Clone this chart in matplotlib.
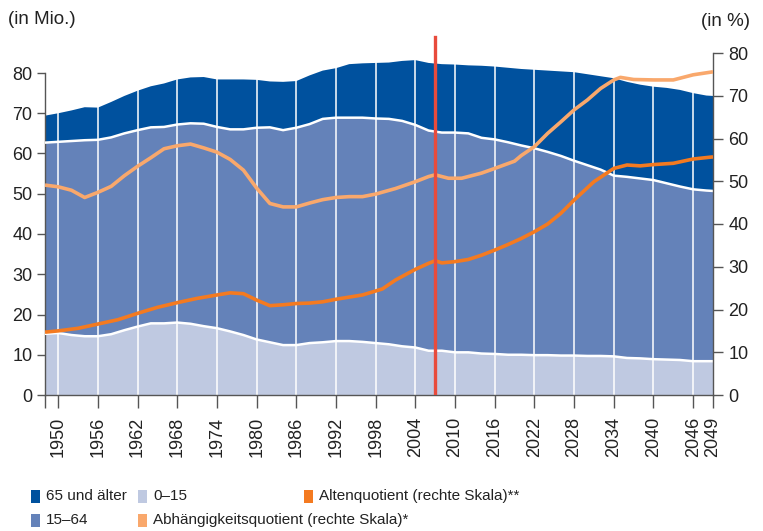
import numpy as np
import matplotlib
matplotlib.use("Agg")
import matplotlib.pyplot as plt
from matplotlib.patches import Rectangle

plt.rcParams['font.family'] = ['Liberation Sans', 'DejaVu Sans']

# population by age group (in Mio.)
years = [1948, 1950, 1952, 1954, 1956, 1958, 1960, 1962, 1964, 1966, 1968, 1970,
         1972, 1974, 1976, 1978, 1980, 1982, 1984, 1986, 1988, 1990, 1992, 1994,
         1996, 1998, 2000, 2002, 2004, 2006, 2008, 2010, 2012, 2014, 2016, 2018,
         2020, 2022, 2024, 2026, 2028, 2030, 2032, 2034, 2036, 2038, 2040, 2042,
         2044, 2046, 2048, 2049]
pop_0_15 = [15.2, 15.4, 14.9, 14.6, 14.6, 15.1, 16.1, 17.0, 17.8, 17.8, 18.0, 17.7,
            17.1, 16.6, 15.8, 14.9, 13.8, 13.1, 12.4, 12.4, 12.9, 13.1, 13.4, 13.4,
            13.2, 12.9, 12.6, 12.1, 11.8, 11.0, 11.0, 10.6, 10.6, 10.3, 10.2, 10.0,
            10.0, 9.9, 9.9, 9.8, 9.8, 9.7, 9.7, 9.6, 9.2, 9.1, 8.9, 8.8,
            8.7, 8.4, 8.4, 8.4]
pop_15_64 = [47.5, 47.5, 48.2, 48.7, 48.8, 48.9, 48.9, 48.8, 48.7, 48.8, 49.2, 49.8,
             50.3, 50.0, 50.2, 51.1, 52.6, 53.4, 53.4, 54.0, 54.4, 55.5, 55.5, 55.5,
             55.7, 55.8, 56.0, 56.0, 55.3, 54.7, 54.2, 54.6, 54.4, 53.6, 53.3, 52.8,
             52.0, 51.4, 50.5, 49.6, 48.4, 47.4, 46.3, 44.9, 45.0, 44.7, 44.5, 43.8,
             43.1, 42.7, 42.4, 42.3]
pop_65plus = [6.7, 7.1, 7.6, 8.2, 8.0, 8.8, 9.3, 9.8, 10.2, 10.8, 11.2, 11.4,
              11.6, 11.8, 12.4, 12.4, 11.9, 11.4, 12.0, 11.6, 12.1, 12.0, 12.3, 13.3,
              13.5, 13.8, 14.0, 14.9, 16.1, 16.8, 17.0, 16.9, 16.9, 17.9, 18.1, 18.5,
              19.0, 19.5, 20.2, 21.0, 22.0, 22.6, 23.2, 24.2, 23.6, 23.3, 23.2, 23.7,
              24.0, 23.9, 23.6, 23.6]

# ratios (in %), right scale
alten_years = [1948, 1950, 1953, 1956, 1959, 1962, 1965, 1968, 1971, 1974, 1976, 1978,
               1980, 1982, 1984, 1986, 1988, 1990, 1992, 1994, 1996, 1999, 2001, 2004,
               2006, 2007, 2008, 2010, 2012, 2014, 2016, 2018, 2020, 2022, 2024, 2026,
               2028, 2031, 2034, 2036, 2038, 2040, 2043, 2046, 2049]
altenquotient = [14.7, 15.0, 15.6, 16.6, 17.6, 19.1, 20.5, 21.6, 22.6, 23.4, 23.9, 23.7,
                 22.2, 20.9, 21.1, 21.4, 21.5, 21.8, 22.4, 22.9, 23.4, 24.8, 26.9, 29.4,
                 30.8, 31.4, 30.9, 31.2, 31.7, 32.7, 33.9, 35.2, 36.6, 38.2, 40.0, 42.5,
                 45.6, 49.9, 53.0, 53.8, 53.6, 53.9, 54.2, 55.2, 55.7]
abh_years = [1948, 1950, 1952, 1954, 1956, 1958, 1960, 1962, 1964, 1966, 1968, 1970,
             1972, 1974, 1976, 1978, 1980, 1982, 1984, 1986, 1988, 1990, 1992, 1994,
             1996, 1998, 2001, 2004, 2006, 2007, 2009, 2011, 2014, 2016, 2019, 2020,
             2022, 2024, 2026, 2028, 2030, 2032, 2034, 2035, 2037, 2040, 2043, 2046, 2049]
abhaengigkeit = [49.1, 48.7, 47.9, 46.2, 47.4, 48.8, 51.3, 53.5, 55.5, 57.6, 58.3, 58.7,
                 57.8, 56.8, 55.1, 52.6, 48.4, 44.8, 44.0, 44.0, 44.9, 45.7, 46.2, 46.4,
                 46.4, 47.0, 48.3, 49.9, 51.1, 51.5, 50.7, 50.7, 51.9, 53.0, 54.7, 56.0,
                 58.1, 61.2, 63.9, 66.7, 69.0, 71.7, 73.7, 74.3, 73.8, 73.7, 73.7, 74.9, 75.6]

tick_years = [1950, 1956, 1962, 1968, 1974, 1980, 1986, 1992, 1998, 2004,
              2010, 2016, 2022, 2028, 2034, 2040, 2046, 2049]
marker_year = 2007

c_old = "#00519E"
c_work = "#6482B9"
c_young = "#BFC9E1"
c_alten = "#F47A20"
c_abh = "#F9A86C"
c_red = "#E84B3C"
c_axis = "#555555"
c_text = "#222222"

fig = plt.figure(figsize=(7.63, 5.31), dpi=100)
ax = fig.add_axes([45/763, 136/531, 668/763, 360/531])
ax2 = ax.twinx()

ax.stackplot(years, pop_0_15, pop_15_64, pop_65plus,
             colors=[c_young, c_work, c_old], linewidth=0, zorder=1)
cum1 = np.array(pop_0_15)
cum2 = cum1 + np.array(pop_15_64)
for ty in tick_years[:-1]:
    ax.axvline(ty, color="white", lw=1.1, zorder=2)
ax.plot(years, cum1, color="white", lw=1.8, zorder=3)
ax.plot(years, cum2, color="white", lw=1.8, zorder=3)

ax.set_xlim(1948, 2049)
ax.set_ylim(0, 360/4.025)
ax2.set_ylim(0, 360/4.275)

ax2.plot(alten_years, altenquotient, color=c_alten, lw=2.6, zorder=4,
         solid_capstyle="butt")
ax2.plot(abh_years, abhaengigkeit, color=c_abh, lw=2.6, zorder=4,
         solid_capstyle="butt")
ax2.plot([marker_year, marker_year], [0, 358/4.275], color=c_red, lw=2.4, zorder=5)

for a in (ax, ax2):
    for s in a.spines.values():
        s.set_color(c_axis)
        s.set_linewidth(1.0)
ax.spines["top"].set_visible(False)
ax.spines["right"].set_visible(False)
ax2.spines["top"].set_visible(False)
ax2.spines["left"].set_visible(False)
ax2.spines["bottom"].set_visible(False)
ax.spines["left"].set_bounds(0, 80)
ax2.spines["right"].set_bounds(0, 80)

ax.set_yticks(range(0, 81, 10))
ax2.set_yticks(range(0, 81, 10))
ax.set_xticks(tick_years)
ax.set_xticks([1948], minor=True)
ax.set_xticklabels([str(y) for y in tick_years], rotation=90)
ax.tick_params(axis="x", which="both", direction="out", length=9, width=1,
               color=c_axis, labelsize=13, labelcolor=c_text, pad=7)
ax.tick_params(axis="y", direction="out", length=6, width=1, color=c_axis,
               labelsize=13, labelcolor=c_text, pad=3)
ax2.tick_params(axis="y", direction="out", length=7, width=1, color=c_axis,
                labelsize=13, labelcolor=c_text, pad=4)
ax.set_facecolor("none")

fig.text(8/763, 1 - 20/531, "(in Mio.)", fontsize=13.5, color=c_text, va="center", ha="left")
fig.text(750/763, 1 - 22/531, "(in %)", fontsize=13.5, color=c_text, va="center", ha="right")

# legend
legend_labels = ["65 und älter", "15–64", "0–15",
                 "Abhängigkeitsquotient (rechte Skala)*", "Altenquotient (rechte Skala)**"]
legend_colors = [c_old, c_work, c_young, c_abh, c_alten]
legend_pos = [(31, 496), (31, 520), (138, 496), (138, 520), (304, 496)]
for lab, col, (px, py) in zip(legend_labels, legend_colors, legend_pos):
    fig.add_artist(Rectangle((px/763, 1 - (py + 6.5)/531), 9/763, 13/531,
                             transform=fig.transFigure, color=col, lw=0))
    fig.text((px + 15)/763, 1 - py/531, lab, fontsize=11, color=c_text,
             va="center", ha="left")

fig.savefig("out.png", dpi=100)
